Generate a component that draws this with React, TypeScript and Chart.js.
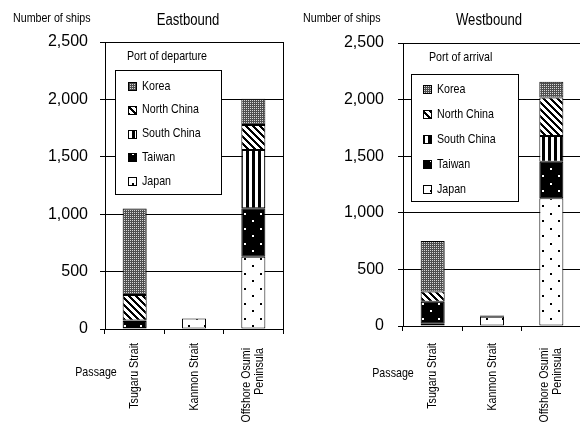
import React, { useEffect, useRef } from 'react';
import { Chart, registerables } from 'chart.js';
Chart.register(...registerables);

// ---------- data ----------
const categories: (string | string[])[] = ['Tsugaru Strait', 'Kanmon Strait', ['Offshore Osumi', 'Peninsula']];
const origins = ['Japan', 'Taiwan', 'South China', 'North China', 'Korea'];
const yTicks = [0, 500, 1000, 1500, 2000, 2500];

const eastJapan = [8, 92, 630];
const eastTaiwan = [62, null, 421];
const eastSouthChina = [5, null, 508];
const eastNorthChina = [221, null, 218];
const eastKorea = [754, null, 228];

const westJapan = [20, 82, 1128];
const westTaiwan = [195, 10, 322];
const westSouthChina = [null, null, 228];
const westNorthChina = [90, null, 341];
const westKorea = [445, null, 138];

const SANS = '"Liberation Sans", Arial, sans-serif';
const NARROW_SCALE = 0.82;

type Side = {
  title: string;
  legendTitle: string;
  values: (number | null)[][];
  canvasW: number;
  padTop: number;
  padRight: number;
  yAxisWidth: number;
  xAxisHeight: number;
  yLabelPad: number;
  xLabelTop: number;
  box: [number, number, number, number];
  legendTitlePos: [number, number];
  item0: number;
  itemStep: number;
  iconDx: number;
  textDx: number;
  titleX: number;
  passage: [number, number];
};

const east: Side = {
  title: 'Eastbound',
  legendTitle: 'Port of departure',
  values: [eastJapan, eastTaiwan, eastSouthChina, eastNorthChina, eastKorea],
  canvasW: 290,
  padTop: 42,
  padRight: 7,
  yAxisWidth: 105,
  xAxisHeight: 94,
  yLabelPad: 12,
  xLabelTop: 343,
  box: [10, 28, 106, 124],
  legendTitlePos: [22, 14],
  item0: 44,
  itemStep: 23.75,
  iconDx: 23,
  textDx: 37,
  titleX: 188,
  passage: [96, 372],
};

const west: Side = {
  title: 'Westbound',
  legendTitle: 'Port of arrival',
  values: [westJapan, westTaiwan, westSouthChina, westNorthChina, westKorea],
  canvasW: 300,
  padTop: 43,
  padRight: 9,
  yAxisWidth: 113,
  xAxisHeight: 97,
  yLabelPad: 14,
  xLabelTop: 343,
  box: [8, 31, 107, 127],
  legendTitlePos: [26, 14],
  item0: 46,
  itemStep: 25,
  iconDx: 20,
  textDx: 34,
  titleX: 199,
  passage: [103, 373],
};

function narrowText(
  ctx: CanvasRenderingContext2D,
  text: string,
  x: number,
  y: number,
  size: number,
  align: CanvasTextAlign,
  rotate = false
) {
  ctx.save();
  ctx.translate(x, y);
  if (rotate) ctx.rotate(-Math.PI / 2);
  ctx.scale(NARROW_SCALE, 1);
  ctx.font = `${size}px ${SANS}`;
  ctx.textAlign = align;
  ctx.textBaseline = 'middle';
  ctx.fillStyle = '#000';
  ctx.fillText(text, 0, 0);
  ctx.restore();
}

function makePatterns(): CanvasPattern[] {
  const mk = (w: number, h: number, draw: (c: CanvasRenderingContext2D) => void) => {
    const cv = document.createElement('canvas');
    cv.width = w;
    cv.height = h;
    const c = cv.getContext('2d')!;
    draw(c);
    return c.createPattern(cv, 'repeat')!;
  };
  const japan = mk(16, 15, (c) => {
    c.fillStyle = '#fff';
    c.fillRect(0, 0, 16, 15);
    c.fillStyle = '#000';
    c.fillRect(4, 3, 2, 2);
    c.fillRect(12, 10, 2, 2);
  });
  const taiwan = mk(16, 15, (c) => {
    c.fillStyle = '#000';
    c.fillRect(0, 0, 16, 15);
    c.fillStyle = '#fff';
    c.fillRect(4, 3, 2, 2);
    c.fillRect(12, 10, 2, 2);
  });
  const south = mk(6, 1, (c) => {
    c.fillStyle = '#fff';
    c.fillRect(0, 0, 6, 1);
    c.fillStyle = '#000';
    c.fillRect(0, 0, 3, 1);
  });
  const north = mk(7, 7, (c) => {
    c.fillStyle = '#fff';
    c.fillRect(0, 0, 7, 7);
    c.fillStyle = '#000';
    for (let y = 0; y < 7; y++)
      for (let x = 0; x < 7; x++) if ((((x - y) % 7) + 7) % 7 < 3) c.fillRect(x, y, 1, 1);
  });
  const korea = mk(2, 2, (c) => {
    c.fillStyle = '#4e4e4e';
    c.fillRect(0, 0, 2, 2);
    c.fillStyle = '#d8d8d8';
    c.fillRect(0, 0, 1, 1);
  });
  return [japan, taiwan, south, north, korea];
}

function build(canvas: HTMLCanvasElement, s: Side, pats: CanvasPattern[]) {
  const decor = {
    id: 'decor',
    afterDraw(chart: any) {
      const { ctx, chartArea: a } = chart;
      ctx.save();
      ctx.strokeStyle = '#000';
      ctx.lineWidth = 1;
      const rx = Math.round(a.right) + 0.5;
      ctx.beginPath();
      ctx.moveTo(rx, a.top);
      ctx.lineTo(rx, a.bottom);
      ctx.stroke();

      narrowText(ctx, 'Number of ships', 13, 18, 13, 'left');
      narrowText(ctx, s.title, s.titleX, 21, 16, 'center');
      narrowText(ctx, 'Passage', s.passage[0], s.passage[1], 13, 'center');

      // category labels (rotated), positioned by the x scale
      const xs = chart.scales.x;
      (chart.data.labels as any[]).forEach((lab, i) => {
        const px = xs.getPixelForValue(i);
        const lines: string[] = Array.isArray(lab) ? lab : [lab];
        const offs = lines.length === 1 ? [0] : [-7, 6];
        const top = s.xLabelTop + (lines.length === 1 ? 0 : 5);
        lines.forEach((ln, j) => narrowText(ctx, ln, px + offs[j], top, 13, 'right', true));
      });

      // legend
      const [bx, by, bw, bh] = s.box;
      const x0 = Math.round(a.left + bx) + 0.5;
      const y0 = Math.round(a.top + by) + 0.5;
      ctx.fillStyle = '#fff';
      ctx.fillRect(x0, y0, bw, bh);
      ctx.strokeStyle = '#000';
      ctx.strokeRect(x0, y0, bw, bh);
      narrowText(ctx, s.legendTitle, a.left + s.legendTitlePos[0], a.top + s.legendTitlePos[1], 13, 'left');
      const ds = chart.data.datasets.slice().reverse();
      ds.forEach((d: any, i: number) => {
        const cy = a.top + s.item0 + i * s.itemStep;
        const ix = Math.round(a.left + s.iconDx) + 0.5;
        const iy = Math.round(cy - 4) + 0.5;
        ctx.fillStyle = d.backgroundColor;
        ctx.fillRect(ix, iy, 8, 8);
        ctx.strokeStyle = '#000';
        ctx.strokeRect(ix, iy, 8, 8);
        narrowText(ctx, d.label, a.left + s.textDx, cy, 13, 'left');
      });
      ctx.restore();
    },
  };

  return new Chart(canvas, {
    type: 'bar',
    data: {
      labels: categories as any,
      datasets: origins.map((o, i) => ({
        label: o,
        data: s.values[i] as any,
        backgroundColor: pats[i] as any,
        borderColor: '#000',
        borderWidth: 1,
        borderSkipped: false,
        barPercentage: 0.405,
        categoryPercentage: 1,
      })),
    },
    options: {
      responsive: false,
      animation: false,
      devicePixelRatio: 1,
      layout: { padding: { top: s.padTop, right: s.padRight, left: 0, bottom: 0 } },
      plugins: { legend: { display: false }, title: { display: false }, tooltip: { enabled: false } },
      scales: {
        x: {
          stacked: true,
          afterFit: (sc: any) => {
            sc.height = s.xAxisHeight;
          },
          grid: { display: true, drawOnChartArea: false, drawTicks: true, tickLength: 5, color: '#000', offset: true },
          border: { color: '#000', width: 1 },
          ticks: { display: false, autoSkip: false },
        },
        y: {
          stacked: true,
          min: yTicks[0],
          max: yTicks[yTicks.length - 1],
          afterFit: (sc: any) => {
            sc.width = s.yAxisWidth;
          },
          afterBuildTicks: (sc: any) => {
            sc.ticks = yTicks.map((v) => ({ value: v }));
          },
          grid: { color: '#000', lineWidth: 1, tickLength: 5, drawTicks: true },
          border: { color: '#000', width: 1 },
          ticks: {
            color: '#000',
            padding: s.yLabelPad,
            font: { family: SANS, size: 16 },
            callback: (v: any) => Number(v).toLocaleString('en-US'),
          },
        },
      },
    },
    plugins: [decor],
  });
}

export default function App() {
  const leftRef = useRef<HTMLCanvasElement>(null);
  const rightRef = useRef<HTMLCanvasElement>(null);
  useEffect(() => {
    const pats = makePatterns();
    const c1 = build(leftRef.current!, east, pats);
    const c2 = build(rightRef.current!, west, pats);
    return () => {
      c1.destroy();
      c2.destroy();
    };
  }, []);
  return (
    <div style={{ position: 'fixed', left: 0, top: 0, width: 580, height: 423, overflow: 'hidden', background: '#fff' }}>
      <canvas
        ref={leftRef}
        width={east.canvasW}
        height={423}
        style={{ position: 'absolute', left: 0, top: 0, width: east.canvasW, height: 423 }}
      />
      <canvas
        ref={rightRef}
        width={west.canvasW}
        height={423}
        style={{ position: 'absolute', left: 290, top: 0, width: west.canvasW, height: 423 }}
      />
    </div>
  );
}
